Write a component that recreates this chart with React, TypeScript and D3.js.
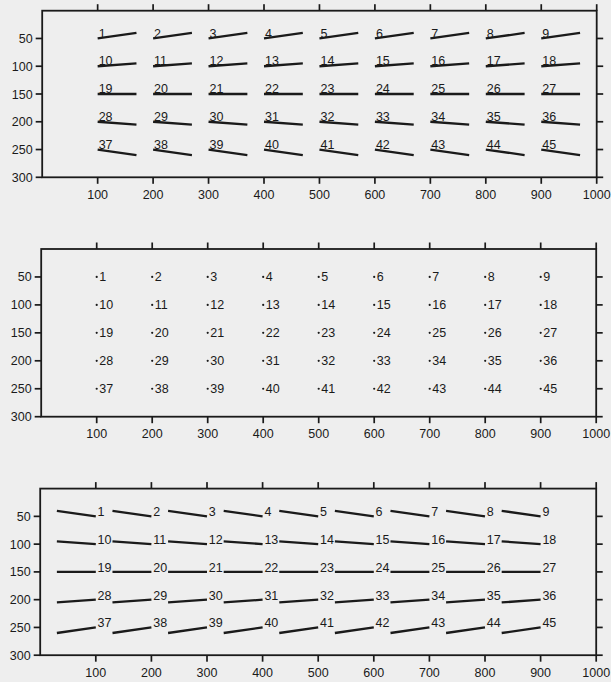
import React from "react";
import * as d3 from "d3";

const W = 611;
const H = 682;

const colValues = [100, 200, 300, 400, 500, 600, 700, 800, 900];
const rowValues = [50, 100, 150, 200, 250];
const rowOffsets = [-10, -5, 0, 5, 10];
const segLength = 70;
const xTicks = [100, 200, 300, 400, 500, 600, 700, 800, 900, 1000];
const yTicks = [50, 100, 150, 200, 250, 300];

type Panel = { mode: "after" | "dot" | "before"; xr: [number, number]; yr: [number, number] };

const panels: Panel[] = [
  { mode: "after", xr: [42.2, 596.7], yr: [10.7, 177.3] },
  { mode: "dot", xr: [41.2, 596.2], yr: [249, 416.7] },
  { mode: "before", xr: [40.2, 596.2], yr: [488.6, 655.2] },
];

const INK = "#1a1a1a";
const FONT = "'Liberation Sans', Arial, Helvetica, sans-serif";

function PanelView({ p }: { p: Panel }) {
  const x = d3.scaleLinear().domain([0, 1000]).range(p.xr);
  const y = d3.scaleLinear().domain([0, 300]).range(p.yr);
  const tick = 6.5;
  const tw = 1.7;
  const [x0, x1] = p.xr;
  const [y0, y1] = p.yr;

  const ticks: React.ReactNode[] = [];
  xTicks.forEach((t) => {
    ticks.push(<rect key={"tb" + t} x={x(t) - tw / 2} y={y1} width={tw} height={tick} fill={INK} />);
    ticks.push(<rect key={"tt" + t} x={x(t) - tw / 2} y={y0 - tick} width={tw} height={tick} fill={INK} />);
  });
  yTicks.forEach((t) => {
    ticks.push(<rect key={"tl" + t} x={x0 - tick} y={y(t) - tw / 2} width={tick} height={tw} fill={INK} />);
    ticks.push(<rect key={"tr" + t} x={x1} y={y(t) - tw / 2} width={tick} height={tw} fill={INK} />);
  });

  const items: React.ReactNode[] = [];
  rowValues.forEach((rv, ri) => {
    colValues.forEach((cv, ci) => {
      const n = ri * colValues.length + ci + 1;
      const off = rowOffsets[ri];
      if (p.mode === "after") {
        items.push(
          <g key={n}>
            <line x1={x(cv)} y1={y(rv)} x2={x(cv + segLength)} y2={y(rv + off)} stroke={INK} strokeWidth={2.3} />
            <text x={x(cv) + 1} y={y(rv) - 0.8} fontSize={12.5} fill={INK} fontFamily={FONT}>{n}</text>
          </g>
        );
      } else if (p.mode === "dot") {
        items.push(
          <g key={n}>
            <circle cx={x(cv)} cy={y(rv)} r={1.1} fill={INK} />
            <text x={x(cv) + 2.6} y={y(rv)} dy="0.36em" fontSize={12.5} fill={INK} fontFamily={FONT}>{n}</text>
          </g>
        );
      } else {
        items.push(
          <g key={n}>
            <line x1={x(cv - segLength)} y1={y(rv + off)} x2={x(cv)} y2={y(rv)} stroke={INK} strokeWidth={2.3} />
            <text x={x(cv) + 1.8} y={y(rv)} fontSize={12.5} fill={INK} fontFamily={FONT}>{n}</text>
          </g>
        );
      }
    });
  });

  return (
    <g>
      {ticks}
      <rect x={x0} y={y0} width={x1 - x0} height={y1 - y0} fill="none" stroke={INK} strokeWidth={1.8} />
      {xTicks.map((t) => (
        <text key={"xl" + t} x={x(t)} y={y1 + 21.5} textAnchor="middle" fontSize={12.5} fill={INK} fontFamily={FONT}>{t}</text>
      ))}
      {yTicks.map((t) => (
        <text key={"yl" + t} x={x0 - 9.5} y={y(t)} dy="0.36em" textAnchor="end" fontSize={12.5} fill={INK} fontFamily={FONT}>{t}</text>
      ))}
      {items}
    </g>
  );
}

export default function App() {
  return (
    <svg width={W} height={H} style={{ position: "absolute", left: 0, top: 0, display: "block" }}>
      <rect x={0} y={0} width={W} height={H} fill="#eeeeee" />
      {panels.map((p, i) => (
        <PanelView key={i} p={p} />
      ))}
    </svg>
  );
}
